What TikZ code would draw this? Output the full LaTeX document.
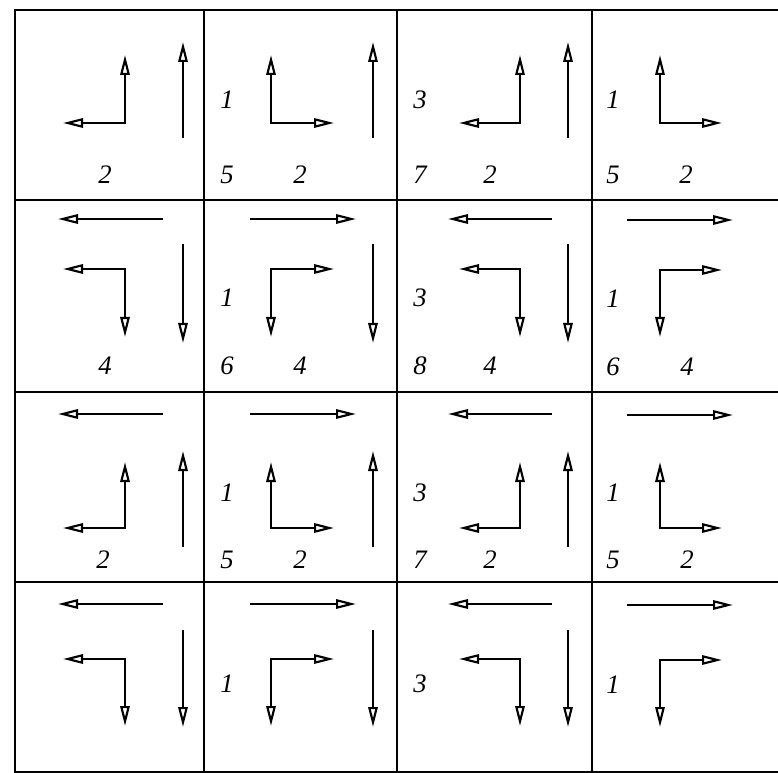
\documentclass[tikz,border=0pt]{standalone}
\usepackage{fontspec}
\setmainfont{Liberation Serif}
\usetikzlibrary{arrows.meta}
\begin{document}
\begin{tikzpicture}[x=0.75pt,y=-0.75pt,
  gridline/.style={line width=1.8pt},
  twoarr/.style={line width=1.6pt,line join=miter,
    {Triangle[open,length=15pt,width=7pt]}-{Triangle[open,length=15pt,width=7pt]}},
  onearr/.style={line width=1.6pt,-{Triangle[open,length=15pt,width=7pt]}},
  lbl/.style={font=\fontsize{20}{20}\selectfont\itshape,inner sep=0pt}]
\useasboundingbox (0,0) rectangle (778,773);
\fill[white] (0,0) rectangle (778,773);
% grid
\draw[gridline] (778,10) -- (15,10) -- (15,772) -- (778,772);
\foreach \yy in {200,392,582} \draw[gridline] (15,\yy) -- (778,\yy);
\foreach \xx in {204,397,592} \draw[gridline] (\xx,10) -- (\xx,772);

% ---------- row 1 ----------
\draw[twoarr] (63,123) -- (125,123) -- (125,55);
\draw[onearr] (183,138) -- (183,42);
\draw[twoarr] (334,123) -- (271,123) -- (271,55);
\draw[onearr] (373,138) -- (373,42);
\draw[twoarr] (459,123) -- (520,123) -- (520,55);
\draw[onearr] (568,138) -- (568,42);
\draw[twoarr] (722,123) -- (660,123) -- (660,55);
\node[lbl] (r1c1b) at (105,175) {2};
\node[lbl] (r1c2a) at (227,100) {1};
\node[lbl] (r1c2b) at (227,175) {5};
\node[lbl] (r1c2c) at (300,175) {2};
\node[lbl] (r1c3a) at (420,100) {3};
\node[lbl] (r1c3b) at (420,175) {7};
\node[lbl] (r1c3c) at (490,175) {2};
\node[lbl] (r1c4a) at (613,100) {1};
\node[lbl] (r1c4b) at (613,175) {5};
\node[lbl] (r1c4c) at (686,175) {2};

% ---------- row 2 ----------
\draw[onearr] (163,219) -- (58,219);
\draw[twoarr] (63,269) -- (125,269) -- (125,337);
\draw[onearr] (183,244) -- (183,343);
\draw[onearr] (250,219) -- (356,219);
\draw[twoarr] (334,269) -- (271,269) -- (271,337);
\draw[onearr] (373,244) -- (373,343);
\draw[onearr] (552,219) -- (448,219);
\draw[twoarr] (459,269) -- (520,269) -- (520,337);
\draw[onearr] (568,244) -- (568,343);
\draw[onearr] (627,220) -- (733,220);
\draw[twoarr] (722,270) -- (660,270) -- (660,337);
\node[lbl] (r2c1b) at (105,366) {4};
\node[lbl] (r2c2a) at (227,298) {1};
\node[lbl] (r2c2b) at (227,366) {6};
\node[lbl] (r2c2c) at (300,366) {4};
\node[lbl] (r2c3a) at (420,298) {3};
\node[lbl] (r2c3b) at (420,366) {8};
\node[lbl] (r2c3c) at (490,366) {4};
\node[lbl] (r2c4a) at (613,299) {1};
\node[lbl] (r2c4b) at (613,367) {6};
\node[lbl] (r2c4c) at (687,367) {4};

% ---------- row 3 ----------
\draw[onearr] (163,414) -- (58,414);
\draw[twoarr] (63,528) -- (125,528) -- (125,462);
\draw[onearr] (183,547) -- (183,451);
\draw[onearr] (250,414) -- (356,414);
\draw[twoarr] (334,528) -- (271,528) -- (271,462);
\draw[onearr] (373,547) -- (373,451);
\draw[onearr] (552,414) -- (448,414);
\draw[twoarr] (459,528) -- (520,528) -- (520,462);
\draw[onearr] (568,547) -- (568,451);
\draw[onearr] (627,415) -- (733,415);
\draw[twoarr] (722,528) -- (660,528) -- (660,462);
\node[lbl] (r3c1b) at (103,560) {2};
\node[lbl] (r3c2a) at (227,493) {1};
\node[lbl] (r3c2b) at (227,560) {5};
\node[lbl] (r3c2c) at (300,560) {2};
\node[lbl] (r3c3a) at (420,493) {3};
\node[lbl] (r3c3b) at (420,560) {7};
\node[lbl] (r3c3c) at (490,560) {2};
\node[lbl] (r3c4a) at (613,493) {1};
\node[lbl] (r3c4b) at (613,560) {5};
\node[lbl] (r3c4c) at (687,560) {2};

% ---------- row 4 ----------
\draw[onearr] (163,604) -- (58,604);
\draw[twoarr] (63,659) -- (125,659) -- (125,726);
\draw[onearr] (183,630) -- (183,727);
\draw[onearr] (250,604) -- (356,604);
\draw[twoarr] (334,659) -- (271,659) -- (271,726);
\draw[onearr] (373,630) -- (373,727);
\draw[onearr] (552,604) -- (448,604);
\draw[twoarr] (459,659) -- (520,659) -- (520,726);
\draw[onearr] (568,630) -- (568,727);
\draw[onearr] (627,605) -- (733,605);
\draw[twoarr] (722,660) -- (660,660) -- (660,727);
\node[lbl] (r4c2a) at (227,684) {1};
\node[lbl] (r4c3a) at (420,684) {3};
\node[lbl] (r4c4a) at (613,685) {1};
\end{tikzpicture}
\end{document}
